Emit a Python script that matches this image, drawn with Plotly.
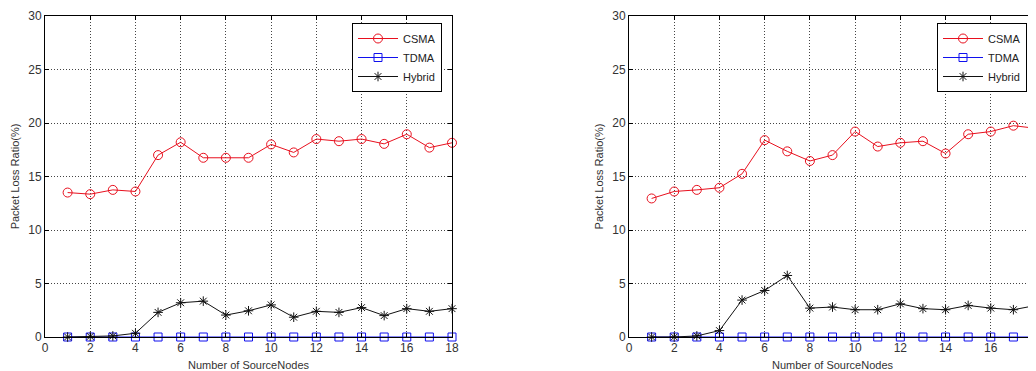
import plotly.graph_objects as go

nodes = list(range(1, 19))

csma_left = [13.5, 13.35, 13.75, 13.6, 17.0, 18.2, 16.75, 16.75, 16.75, 18.0, 17.25, 18.5, 18.3, 18.5, 18.05, 18.95, 17.7, 18.15]
tdma_left = [0] * 18
hybrid_left = [0, 0.05, 0.1, 0.35, 2.3, 3.2, 3.35, 2.05, 2.45, 3.0, 1.85, 2.4, 2.3, 2.75, 2.0, 2.65, 2.4, 2.65]

csma_right = [12.95, 13.6, 13.75, 13.95, 15.25, 18.4, 17.35, 16.45, 17.0, 19.2, 17.8, 18.15, 18.3, 17.15, 18.95, 19.2, 19.75, 19.5]
tdma_right = [0] * 18
hybrid_right = [0, 0, 0.1, 0.6, 3.45, 4.35, 5.75, 2.7, 2.8, 2.55, 2.55, 3.1, 2.65, 2.55, 2.95, 2.7, 2.55, 2.95]

x_ticks = [0, 2, 4, 6, 8, 10, 12, 14, 16, 18]
y_ticks = [0, 5, 10, 15, 20, 25, 30]

FONT = "Liberation Sans, Arial, sans-serif"
RED = "#e8101e"
BLUE = "#1010ee"
BLACK = "#111111"

fig = go.Figure()

def add_series(xa, ya, leg, csma, tdma, hybrid):
    fig.add_trace(go.Scatter(x=nodes, y=csma, name="CSMA", mode="lines+markers",
                             line=dict(color=RED, width=1), cliponaxis=False,
                             marker=dict(symbol="circle-open", size=9, color=RED, line=dict(width=1)),
                             xaxis=xa, yaxis=ya, legend=leg))
    fig.add_trace(go.Scatter(x=nodes, y=tdma, name="TDMA", mode="lines+markers",
                             line=dict(color=BLUE, width=1), cliponaxis=False,
                             marker=dict(symbol="square-open", size=8, color=BLUE, line=dict(width=1)),
                             xaxis=xa, yaxis=ya, legend=leg))
    fig.add_trace(go.Scatter(x=nodes, y=hybrid, name="Hybrid", mode="lines+markers",
                             line=dict(color=BLACK, width=1), cliponaxis=False,
                             marker=dict(symbol="asterisk-open", size=8, color=BLACK, line=dict(width=1, color=BLACK)),
                             xaxis=xa, yaxis=ya, legend=leg))

add_series("x", "y", "legend", csma_left, tdma_left, hybrid_left)
add_series("x2", "y2", "legend2", csma_right, tdma_right, hybrid_right)

# page body has an 8px margin, so figure coords = screen coords - 8
OFF = 8
W, H = 1036 - OFF, 371 - OFF
ydom = [(H - (337 - OFF)) / H, (H - (16 - OFF)) / H]

axis_common = dict(
    showline=True, linecolor="black", linewidth=1, mirror="ticks",
    ticks="inside", ticklen=4, tickcolor="black",
    showgrid=True, gridcolor="#444444", griddash="1px,2px", gridwidth=1,
    zeroline=False, automargin=False,
    tickfont=dict(family=FONT, size=12, color="#333333"),
)

legend_common = dict(
    xanchor="right", y=(H - (23 - OFF)) / H, yanchor="top",
    bgcolor="white", bordercolor="black", borderwidth=1,
    font=dict(family=FONT, size=11, color="#222222"), tracegroupgap=0,
    itemwidth=40,
)

fig.update_layout(
    width=W, height=H,
    margin=dict(l=0, r=0, t=0, b=0),
    paper_bgcolor="white", plot_bgcolor="white",
    font=dict(family=FONT, size=11, color="#333333"),
    xaxis=dict(domain=[(45 - OFF) / W, (452 - OFF) / W], range=[0, 18], tickvals=x_ticks, anchor="y",
               title=dict(text="Number of SourceNodes", font=dict(size=11), standoff=6), **axis_common),
    yaxis=dict(domain=ydom, range=[0, 30], tickvals=y_ticks, anchor="x",
               title=dict(text="Packet Loss Ratio(%)", font=dict(size=11), standoff=6), **axis_common),
    xaxis2=dict(domain=[(629 - OFF) / W, 1.0], range=[0, 18], tickvals=x_ticks, anchor="y2",
                title=dict(text="Number of SourceNodes", font=dict(size=11), standoff=6), **axis_common),
    yaxis2=dict(domain=ydom, range=[0, 30], tickvals=y_ticks, anchor="x2",
                title=dict(text="Packet Loss Ratio(%)", font=dict(size=11), standoff=6), **axis_common),
    legend=dict(x=(442 - OFF) / W, **legend_common),
    legend2=dict(x=(1027 - OFF) / W, **legend_common),
    showlegend=True,
)

fig.write_html("out.html")
